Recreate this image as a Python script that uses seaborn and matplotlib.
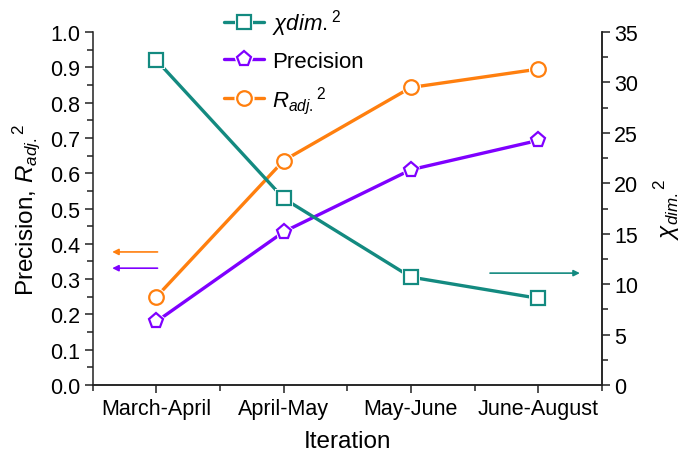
import matplotlib
matplotlib.use("Agg")
import matplotlib.pyplot as plt
import seaborn as sns
import pandas as pd
import numpy as np
from matplotlib.lines import Line2D
from matplotlib.legend_handler import HandlerTuple

categories = ["March-April", "April-May", "May-June", "June-August"]
precision = [0.18, 0.434, 0.61, 0.693]
r2_adj = [0.25, 0.636, 0.843, 0.895]
chi2_dim = [32.2, 18.5, 10.7, 8.6]

sns.set_theme(style="ticks")
plt.rcParams['font.family'] = ['Liberation Sans', 'DejaVu Sans']
plt.rcParams['mathtext.fontset'] = 'custom'
plt.rcParams['mathtext.rm'] = 'Liberation Sans'
plt.rcParams['mathtext.it'] = 'Liberation Sans:italic'
plt.rcParams['mathtext.bf'] = 'Liberation Sans:bold'
for k in ("text.color", "axes.labelcolor", "xtick.color", "ytick.color"):
    plt.rcParams[k] = "black"

TEAL = "#138a80"
PURPLE = "#7f00ff"
ORANGE = "#ff7f0e"
SPINE = "#222222"

df = pd.DataFrame({"cat": categories, "pos": np.arange(len(categories)),
                   "precision": precision, "r2": r2_adj, "chi2": chi2_dim})

fig = plt.figure(figsize=(6.83, 4.56), dpi=100)
ax = fig.add_axes([0.136, 0.1535, 0.745, 0.774])
ax2 = ax.twinx()

lw = 2.4
mew = 1.6

def draw(axis, col, color, marker, msize):
    sns.lineplot(data=df, x="pos", y=col, ax=axis, color=color, lw=lw, zorder=2)
    axis.plot(df["pos"], df[col], linestyle="none", marker=marker, ms=msize + 3.2,
              mfc="white", mec="white", mew=0, zorder=3)
    axis.plot(df["pos"], df[col], linestyle="none", marker=marker, ms=msize,
              mfc="none", mec=color, mew=mew, zorder=4)

draw(ax, "r2", ORANGE, "o", 10.5)
draw(ax, "precision", PURPLE, "p", 11)
draw(ax2, "chi2", TEAL, "s", 9.5)

ax.set_xlim(-0.5, 3.5)
ax.set_ylim(0, 1.0)
ax2.set_ylim(0, 35)
ax.set_xticks(np.arange(len(categories)))
ax.set_xticklabels(categories)
ax.set_xticks(np.arange(-0.5, 3.6, 1.0), minor=True)
ax.set_yticks(np.arange(0, 1.01, 0.1))
ax.set_yticklabels([f"{v:.1f}" for v in np.arange(0, 1.01, 0.1)])
ax.set_yticks(np.arange(0.05, 1.0, 0.1), minor=True)
ax2.set_yticks(np.arange(0, 36, 5))
ax2.set_yticks(np.arange(2.5, 35, 5), minor=True)

for a in (ax, ax2):
    a.spines["top"].set_visible(False)
    for s in ("left", "right", "bottom"):
        a.spines[s].set_linewidth(1.1)
        a.spines[s].set_color(SPINE)
    a.tick_params(which="major", length=6, width=1.1, color=SPINE, labelsize=15.5, pad=3,
                  labelcolor="black")
    a.tick_params(which="minor", length=4, width=1.1, color=SPINE)
    a.grid(False)
ax2.spines["left"].set_visible(False)

ax.set_xlabel("Iteration", fontsize=17.5, labelpad=8, color="black")
ax.set_ylabel(r"Precision, $R_{adj.}$$^{2}$", fontsize=17.5, labelpad=6, color="black")
ax2.set_ylabel(r"$\chi_{dim.}$$^{2}$", fontsize=17.5, labelpad=10, rotation=90, color="black")

# direction arrows
ax.annotate("", xy=(-0.37, 0.377), xytext=(0.03, 0.377),
            arrowprops=dict(arrowstyle="-|>", color=ORANGE, lw=1.2, mutation_scale=9))
ax.annotate("", xy=(-0.37, 0.331), xytext=(0.03, 0.331),
            arrowprops=dict(arrowstyle="-|>", color=PURPLE, lw=1.2, mutation_scale=9))
ax.annotate("", xy=(3.35, 0.317), xytext=(2.6, 0.317),
            arrowprops=dict(arrowstyle="-|>", color=TEAL, lw=1.2, mutation_scale=9))

def handle(color, marker, msize):
    l = Line2D([], [], color=color, lw=lw)
    w = Line2D([], [], linestyle="none", marker=marker, ms=msize + 4, mfc="white", mec="white", mew=0)
    m = Line2D([], [], linestyle="none", marker=marker, ms=msize, mfc="none", mec=color, mew=mew)
    return (l, w, m)

handles = [handle(TEAL, "s", 9.5), handle(PURPLE, "p", 11), handle(ORANGE, "o", 10.5)]
labels = [r"$\chi\mathit{dim.}^{2}$", "Precision", r"$R_{adj.}$$^{2}$"]
leg = ax2.legend(handles, labels, handler_map={tuple: HandlerTuple(ndivide=1, pad=0)},
                 loc="upper left", bbox_to_anchor=(0.24, 1.095), frameon=False,
                 fontsize=16, handlelength=1.8, handletextpad=0.35, labelspacing=0.55,
                 borderaxespad=0)
for t in leg.get_texts():
    t.set_color("black")

fig.savefig("out.png", dpi=100)
